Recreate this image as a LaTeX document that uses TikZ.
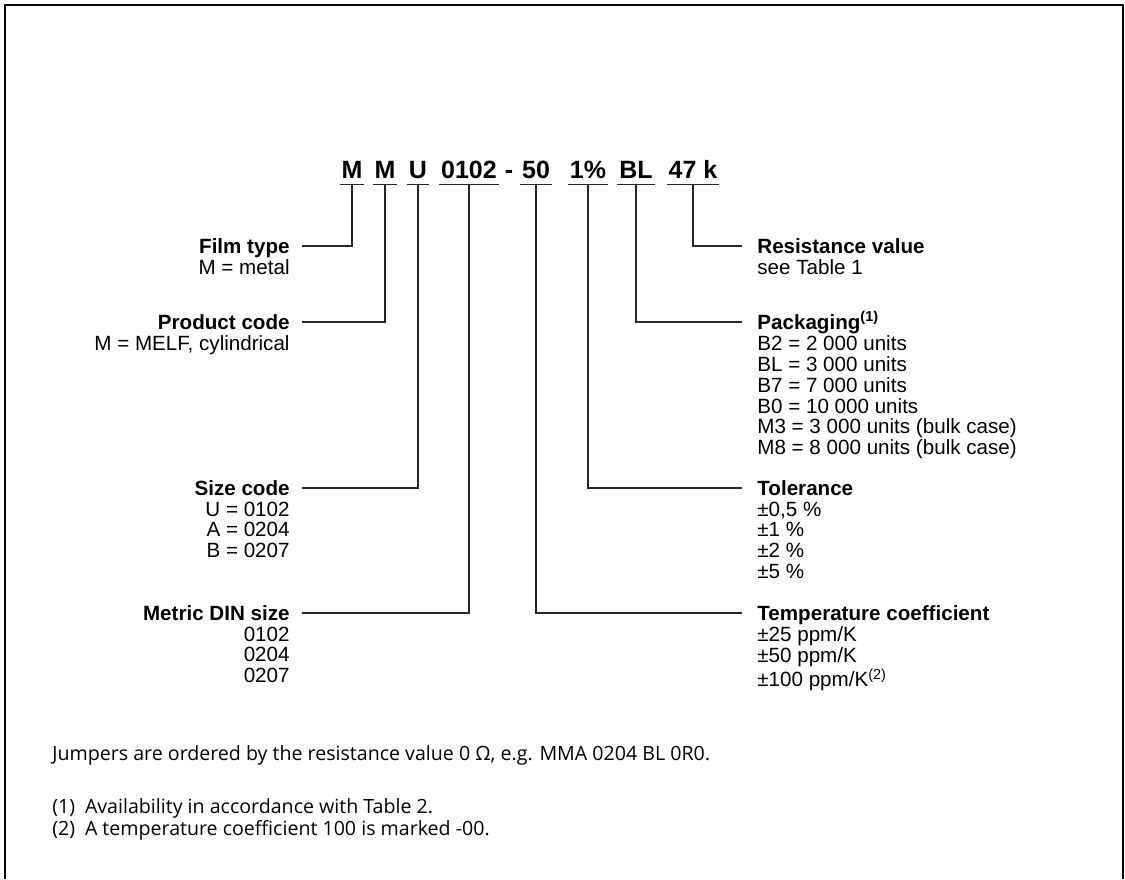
\documentclass[tikz,border=0pt]{standalone}
\usepackage{fontspec}
\setmainfont{Liberation Sans}
\newfontfamily\notefont{Open Sans}
\usetikzlibrary{positioning}

\begin{document}
\begin{tikzpicture}[x=0.5pt,y=-0.5pt]
\tikzstyle{code}=[font=\fontsize{12.5}{14}\selectfont\bfseries,anchor=base,inner xsep=0.8pt,inner ysep=3pt,text depth=0pt]
\tikzstyle{headl}=[font=\fontsize{10.3}{10.4}\selectfont\bfseries,anchor=base east,inner xsep=6pt,inner ysep=0pt,text height=7pt,text depth=0pt]
\tikzstyle{headr}=[headl,anchor=base west,inner xsep=7.5pt]
\tikzstyle{detl}=[font=\fontsize{10.3}{10.4}\selectfont,align=right,inner xsep=6pt,inner ysep=0pt]
\tikzstyle{detr}=[detl,align=left,inner xsep=7.5pt]
\tikzstyle{lead}=[line width=0.6pt,black!85]
\tikzstyle{note}=[font=\notefont\fontsize{9.8}{11}\selectfont,anchor=base west,inner sep=0pt]
\useasboundingbox (0,0) rectangle (1125,879);
\draw[line width=1pt] (5,879) -- (5,5) -- (1123,5) -- (1123,879);
\node[code] (cFilm) at (352,178) {M};
\node[code] (cProd) at (385,178) {M};
\node[code] (cSize) at (418,178) {U};
\node[code] (cDin) at (469,178) {0102};
\node[code] (cDash) at (509,178) {-};
\node[code] (cTc) at (536,178) {50};
\node[code] (cTol) at (588,178) {1\%};
\node[code] (cPack) at (636,178) {BL};
\node[code] (cRes) at (693,178) {47 k};
\foreach \c in {cFilm,cProd,cSize,cDin,cTc,cTol,cPack,cRes}
  \draw[lead] (\c.south west) -- (\c.south east);
\node[headl] (film) at (302,253) {Film type};
\node[detl,below=3.2pt of film.base east,anchor=north east] (filmd) {M = metal};
\node[headl] (prod) at (302,329) {Product code};
\node[detl,below=3.2pt of prod.base east,anchor=north east] (prodd) {M = MELF, cylindrical};
\node[headl] (size) at (302,495) {Size code};
\node[detl,below=3.2pt of size.base east,anchor=north east] (sized) {U = 0102\\A = 0204\\B = 0207};
\node[headl] (din) at (302,620) {Metric DIN size};
\node[detl,below=3.2pt of din.base east,anchor=north east] (dind) {0102\\0204\\0207};
\node[headr] (res) at (742,253) {Resistance value};
\node[detr,below=3.2pt of res.base west,anchor=north west] (resd) {see Table 1};
\node[headr] (pack) at (742,329) {Packaging\textsuperscript{(1)}};
\node[detr,below=3.2pt of pack.base west,anchor=north west] (packd) {B2 = 2~000 units\\BL = 3~000 units\\B7 = 7~000 units\\B0 = 10~000 units\\M3 = 3~000 units (bulk case)\\M8 = 8~000 units (bulk case)};
\node[headr] (tol) at (742,495) {Tolerance};
\node[detr,below=3.2pt of tol.base west,anchor=north west] (told) {±0,5 \%\\±1 \%\\±2 \%\\±5 \%};
\node[headr] (tc) at (742,620) {Temperature coefficient};
\node[detr,below=3.2pt of tc.base west,anchor=north west] (tcd) {±25 ppm/K\\±50 ppm/K\\±100 ppm/K\textsuperscript{(2)}};
\draw[lead] (cFilm.south) |- (film.east);
\draw[lead] (cProd.south) |- (prod.east);
\draw[lead] (cSize.south) |- (size.east);
\draw[lead] (cDin.south) |- (din.east);
\draw[lead] (cRes.south) |- (res.west);
\draw[lead] (cPack.south) |- (pack.west);
\draw[lead] (cTol.south) |- (tol.west);
\draw[lead] (cTc.south) |- (tc.west);
\node[note] (jump) at (52,760) {Jumpers are ordered by the resistance value 0~Ω, e.g. MMA 0204 BL 0R0.};
\node[note] (fn1) at (52,813) {(1)\hspace{0.5em}Availability in accordance with Table 2.};
\node[note] (fn2) at (52,835) {(2)\hspace{0.5em}A temperature coefficient 100 is marked -00.};
\end{tikzpicture}
\end{document}
